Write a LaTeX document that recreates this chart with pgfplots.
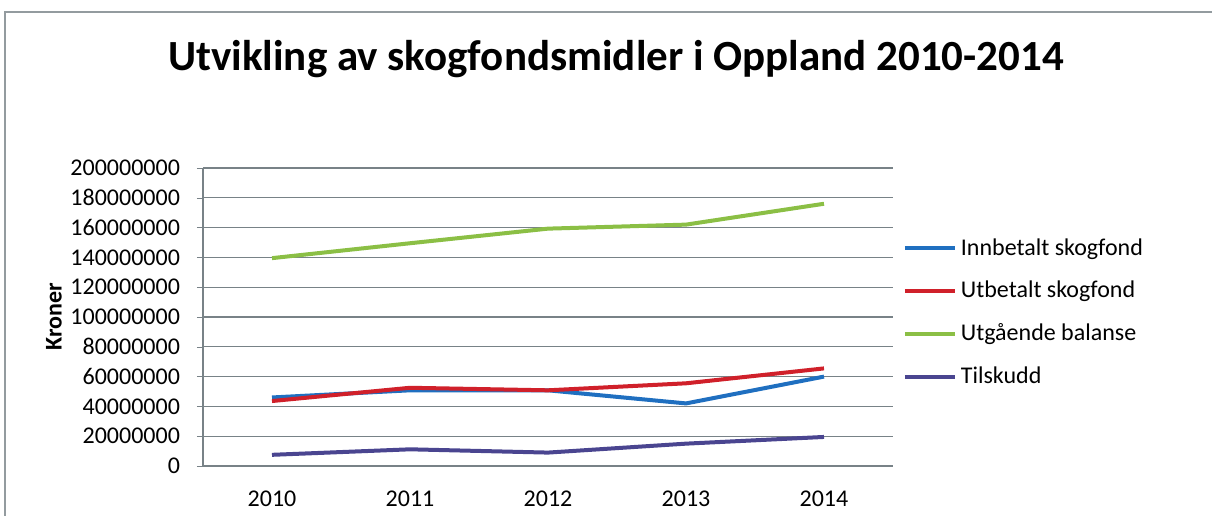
\documentclass[border=0pt]{standalone}
\usepackage{pgfplots}
\pgfplotsset{compat=1.18}
\usepackage{fontspec}
\setmainfont{Carlito}

\definecolor{innb}{RGB}{31,111,192}
\definecolor{utb}{RGB}{208,32,42}
\definecolor{balanse}{RGB}{139,191,69}
\definecolor{tilsk}{RGB}{74,69,144}
\definecolor{grd}{RGB}{120,130,135}

\begin{document}
\begin{tikzpicture}
\useasboundingbox (0,0) rectangle (606pt,257.5pt);
% frame of the chart area (cut off at right and bottom)
\draw[grd!80, line width=0.8pt] (2.5pt,-2pt) -- (2.5pt,251.5pt) -- (606pt,251.5pt);
\node[font=\fontsize{21.5}{24}\selectfont\bfseries] at (308pt,228pt) {Utvikling av skogfondsmidler i Oppland 2010-2014};
\begin{axis}[
    at={(101.5pt,24.5pt)},
    anchor=south west,
    scale only axis,
    width=345pt,
    height=149pt,
    xmin=-0.5, xmax=4.5,
    ymin=0, ymax=200000000,
    xtick={0,1,2,3,4},
    xticklabels={2010,2011,2012,2013,2014},
    ytick={0,20000000,...,200000000},
    scaled y ticks=false,
    /pgf/number format/assume math mode=true,
    yticklabel style={/pgf/number format/fixed,/pgf/number format/1000 sep={}},
    tick label style={font=\fontsize{12}{14}\selectfont},
    xticklabel style={yshift=-6pt},
    yticklabel style={xshift=-5pt},
    major x tick style={draw=none},
    ytick style={grd},
    tick align=outside,
    major tick length=3pt,
    axis x line*=bottom,
    axis y line*=left,
    axis line style={grd, line width=0.6pt},
    ymajorgrids,
    grid style={grd, line width=0.6pt},
    ylabel={Kroner},
    ylabel style={font=\fontsize{12}{14}\selectfont\bfseries, yshift=-2.5pt},
    legend style={draw=none, fill=none, at={(1.005,0.515)}, anchor=west,
        font=\fontsize{12}{14}\selectfont, row sep=7.5pt,
        legend cell align=left},
    legend image code/.code={\draw[#1] (0cm,0cm) -- (0.88cm,0cm);},
    every axis plot/.append style={line width=2pt},
]
\addplot[innb] coordinates {(0,46000000) (1,50800000) (2,50800000) (3,42000000) (4,60000000)};
\addplot[utb] coordinates {(0,43600000) (1,52500000) (2,50800000) (3,55500000) (4,65500000)};
\addplot[balanse] coordinates {(0,139500000) (1,149500000) (2,159300000) (3,162000000) (4,176000000)};
\addplot[tilsk] coordinates {(0,7500000) (1,11200000) (2,9000000) (3,15000000) (4,19500000)};
\legend{Innbetalt skogfond,Utbetalt skogfond,Utgående balanse,Tilskudd}
\end{axis}
\end{tikzpicture}
\end{document}
